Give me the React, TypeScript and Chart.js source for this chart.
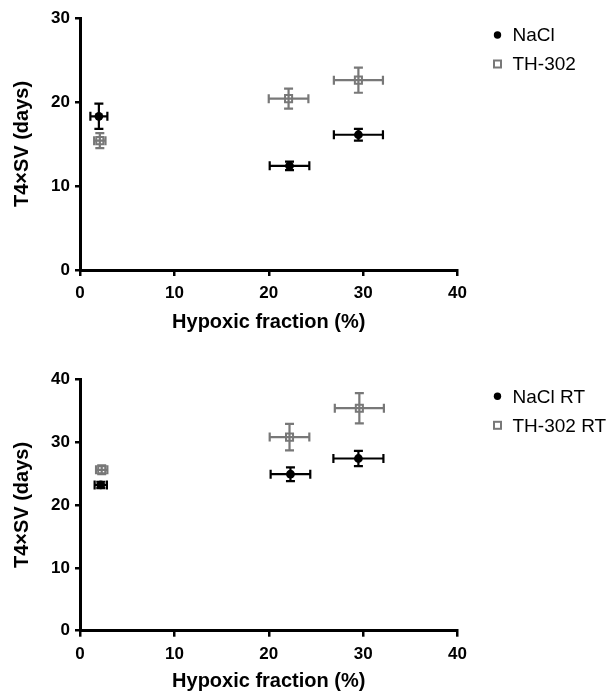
import React, { useEffect, useRef } from "react";
import { Chart, registerables } from "chart.js";

Chart.register(...registerables);

// ---------- Data ----------
const xTickValues = [0, 10, 20, 30, 40];
const xAxisTitle = "Hypoxic fraction (%)";
const yAxisTitle = "T4×SV (days)";

// Panel A (no RT)
const naclX = [2.0, 22.2, 29.5];
const naclXErr = [0.9, 2.1, 2.6];
const naclY = [18.3, 12.4, 16.1];
const naclYErr = [1.5, 0.5, 0.7];

const th302X = [2.1, 22.1, 29.5];
const th302XErr = [0.6, 2.1, 2.6];
const th302Y = [15.4, 20.4, 22.6];
const th302YErr = [0.9, 1.2, 1.5];

// Panel B (RT)
const naclRtX = [2.2, 22.3, 29.5];
const naclRtXErr = [0.65, 2.1, 2.65];
const naclRtY = [23.2, 24.9, 27.4];
const naclRtYErr = [0.5, 1.1, 1.2];

const th302RtX = [2.3, 22.2, 29.6];
const th302RtXErr = [0.6, 2.1, 2.6];
const th302RtY = [25.6, 30.8, 35.4];
const th302RtYErr = [0.7, 2.1, 2.4];

const BLACK = "#000000";
const GRAY = "#787878";
const FONT = "'Liberation Sans', Arial, Helvetica, sans-serif";

function points(xs: number[], xe: number[], ys: number[], ye: number[]) {
  return xs.map((x, i) => ({ x, y: ys[i], xErr: xe[i], yErr: ye[i] }));
}

const errorBarsPlugin = {
  id: "errorBars",
  beforeDatasetsDraw(chart: any) {
    const { ctx } = chart;
    const xs = chart.scales.x;
    const ys = chart.scales.y;
    const cap = 4.5;
    chart.data.datasets.forEach((ds: any, i: number) => {
      const meta = chart.getDatasetMeta(i);
      if (meta.hidden) return;
      ctx.save();
      ctx.strokeStyle = ds.borderColor;
      ctx.lineWidth = 2.2;
      ds.data.forEach((p: any) => {
        const px = xs.getPixelForValue(p.x);
        const py = ys.getPixelForValue(p.y);
        const xl = xs.getPixelForValue(p.x - p.xErr);
        const xr = xs.getPixelForValue(p.x + p.xErr);
        const yt = ys.getPixelForValue(p.y + p.yErr);
        const yb = ys.getPixelForValue(p.y - p.yErr);
        ctx.beginPath();
        ctx.moveTo(xl, py);
        ctx.lineTo(xr, py);
        ctx.moveTo(xl, py - cap);
        ctx.lineTo(xl, py + cap);
        ctx.moveTo(xr, py - cap);
        ctx.lineTo(xr, py + cap);
        ctx.moveTo(px, yt);
        ctx.lineTo(px, yb);
        ctx.moveTo(px - cap, yt);
        ctx.lineTo(px + cap, yt);
        ctx.moveTo(px - cap, yb);
        ctx.lineTo(px + cap, yb);
        ctx.stroke();
      });
      ctx.restore();
    });
  },
};

const legendPlugin = {
  id: "customLegend",
  afterDraw(chart: any) {
    const { ctx, chartArea } = chart;
    const mx = chartArea.right + 40;
    const tx = chartArea.right + 55;
    ctx.save();
    ctx.font = `19px ${FONT}`;
    ctx.textBaseline = "middle";
    ctx.textAlign = "left";
    chart.data.datasets.forEach((ds: any, i: number) => {
      const yy = chartArea.top + 17 + i * 29;
      if (ds.pointStyle === "rect") {
        ctx.strokeStyle = ds.borderColor;
        ctx.lineWidth = 2;
        ctx.strokeRect(mx - 3.5, yy - 3.5, 7, 7);
      } else {
        ctx.fillStyle = ds.borderColor;
        ctx.beginPath();
        ctx.arc(mx, yy, 3.7, 0, Math.PI * 2);
        ctx.fill();
      }
      ctx.fillStyle = BLACK;
      ctx.fillText(ds.label, tx, yy + 1);
    });
    ctx.restore();
  },
};

type PanelProps = {
  top: number;
  height: number;
  areaTop: number;
  areaBottom: number;
  yMax: number;
  yTicks: number[];
  titlePadBottom: number;
  labels: [string, string];
  a: { x: number; y: number; xErr: number; yErr: number }[];
  b: { x: number; y: number; xErr: number; yErr: number }[];
};

function Panel(props: PanelProps) {
  const ref = useRef<HTMLCanvasElement | null>(null);
  useEffect(() => {
    if (!ref.current) return;
    const xScaleHeight = props.height - props.areaBottom;
    const chart = new Chart(ref.current, {
      type: "scatter",
      data: {
        datasets: [
          {
            label: props.labels[0],
            data: props.a,
            borderColor: BLACK,
            backgroundColor: BLACK,
            pointStyle: "circle",
            pointRadius: 4.4,
            pointBorderWidth: 0,
          } as any,
          {
            label: props.labels[1],
            data: props.b,
            borderColor: GRAY,
            backgroundColor: "rgba(0,0,0,0)",
            pointStyle: "rect",
            pointRadius: 5,
            pointBorderWidth: 2,
          } as any,
        ],
      },
      options: {
        responsive: false,
        animation: false,
        devicePixelRatio: 1,
        layout: {
          padding: { left: 0, top: props.areaTop, right: 154.5, bottom: 0 },
        },
        plugins: {
          legend: { display: false },
          tooltip: { enabled: false },
        },
        scales: {
          x: {
            type: "linear",
            min: 0,
            max: 40,
            afterBuildTicks: (s: any) => {
              s.ticks = xTickValues.map((v) => ({ value: v }));
            },
            afterFit: (s: any) => {
              s.height = xScaleHeight;
            },
            ticks: {
              color: BLACK,
              padding: 7,
              font: { family: FONT, size: 17, weight: "bold" },
            },
            grid: {
              drawOnChartArea: false,
              drawTicks: true,
              tickLength: 6,
              color: BLACK,
              lineWidth: 2.5,
            },
            border: { display: true, color: BLACK, width: 3 },
            title: {
              display: true,
              text: xAxisTitle,
              color: BLACK,
              font: { family: FONT, size: 20, weight: "bold", lineHeight: 1 },
              padding: { top: 0, bottom: props.titlePadBottom },
            },
          },
          y: {
            type: "linear",
            min: 0,
            max: props.yMax,
            afterBuildTicks: (s: any) => {
              s.ticks = props.yTicks.map((v) => ({ value: v }));
            },
            afterFit: (s: any) => {
              s.width = 80;
            },
            ticks: {
              color: BLACK,
              padding: 5,
              font: { family: FONT, size: 17, weight: "bold" },
            },
            grid: {
              drawOnChartArea: false,
              drawTicks: true,
              tickLength: 5,
              color: BLACK,
              lineWidth: 2.5,
            },
            border: { display: true, color: BLACK, width: 3 },
            title: {
              display: true,
              text: yAxisTitle,
              color: BLACK,
              font: { family: FONT, size: 20, weight: "bold", lineHeight: 1 },
              padding: { top: 12, bottom: 0 },
            },
          },
        },
      } as any,
      plugins: [errorBarsPlugin, legendPlugin],
    });
    return () => chart.destroy();
  }, []);
  return (
    <canvas
      ref={ref}
      width={612}
      height={props.height}
      style={{ position: "absolute", left: 0, top: props.top, width: 612, height: props.height }}
    />
  );
}

export default function App() {
  return (
    <div
      style={{
        position: "absolute",
        left: 0,
        top: 0,
        width: 612,
        height: 693,
        overflow: "hidden",
        background: "#fff",
      }}
    >
      <Panel
        top={0}
        height={340}
        areaTop={18}
        areaBottom={270}
        yMax={30}
        yTicks={[0, 10, 20, 30]}
        titlePadBottom={8}
        labels={["NaCl", "TH-302"]}
        a={points(naclX, naclXErr, naclY, naclYErr)}
        b={points(th302X, th302XErr, th302Y, th302YErr)}
      />
      <Panel
        top={340}
        height={353}
        areaTop={39.3}
        areaBottom={290.7}
        yMax={40}
        yTicks={[0, 10, 20, 30, 40]}
        titlePadBottom={1.3}
        labels={["NaCl RT", "TH-302 RT"]}
        a={points(naclRtX, naclRtXErr, naclRtY, naclRtYErr)}
        b={points(th302RtX, th302RtXErr, th302RtY, th302RtYErr)}
      />
    </div>
  );
}
